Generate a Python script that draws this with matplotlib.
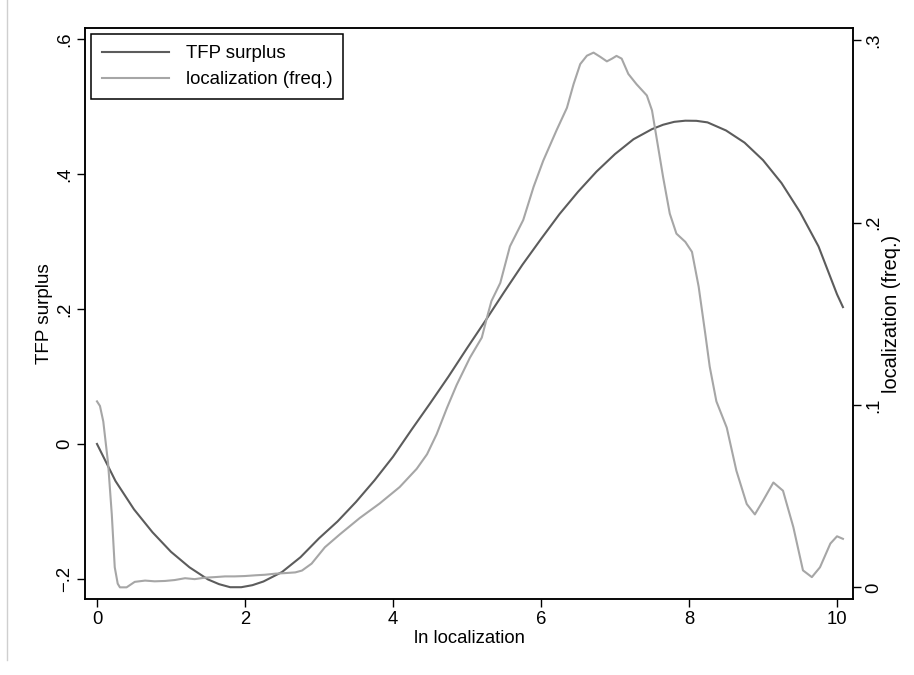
import numpy as np
import matplotlib.pyplot as plt
from matplotlib.lines import Line2D

plt.rcParams['font.family'] = ['Liberation Sans', 'DejaVu Sans']

# TFP surplus (left axis)
tfp_x = [0, 0.25, 0.5, 0.75, 1.0, 1.25, 1.5, 1.65, 1.8, 1.95, 2.1, 2.25, 2.5,
         2.75, 3.0, 3.25, 3.5, 3.75, 4.0, 4.25, 4.5, 4.75, 5.0, 5.25, 5.5,
         5.75, 6.0, 6.25, 6.5, 6.75, 7.0, 7.25, 7.5, 7.65, 7.8, 7.95, 8.1,
         8.25, 8.5, 8.75, 9.0, 9.25, 9.5, 9.75, 10.0, 10.08]
tfp_y = [0, -0.055, -0.097, -0.131, -0.160, -0.183, -0.201, -0.208, -0.2125,
         -0.2125, -0.2095, -0.204, -0.190, -0.168, -0.140, -0.115, -0.086,
         -0.054, -0.019, 0.021, 0.060, 0.100, 0.142, 0.183, 0.225, 0.266,
         0.304, 0.341, 0.374, 0.404, 0.430, 0.452, 0.467, 0.4735, 0.4778,
         0.4795, 0.4793, 0.477, 0.465, 0.447, 0.421, 0.387, 0.344, 0.293,
         0.222, 0.203]

# localization (freq.) (right axis)
loc_x = [0, 0.04, 0.085, 0.15, 0.2, 0.24, 0.28, 0.31, 0.40, 0.51, 0.65, 0.78,
         0.92, 1.05, 1.19, 1.32, 1.46, 1.59, 1.73, 1.86, 2.0, 2.14, 2.27,
         2.41, 2.54, 2.68, 2.77, 2.9, 3.08, 3.28, 3.55, 3.82, 4.09, 4.32,
         4.46, 4.59, 4.73, 4.86, 5.04, 5.2, 5.27, 5.33, 5.45, 5.58, 5.76,
         5.9, 6.03, 6.21, 6.35, 6.44, 6.53, 6.62, 6.71, 6.80, 6.89, 6.96,
         7.02, 7.09, 7.18, 7.29, 7.43, 7.50, 7.56, 7.65, 7.74, 7.83, 7.95,
         8.04, 8.13, 8.22, 8.28, 8.37, 8.51, 8.64, 8.78, 8.89, 9.0, 9.14,
         9.27, 9.41, 9.54, 9.66, 9.77, 9.91, 10.0, 10.08]
loc_y = [0.102, 0.0995, 0.091, 0.068, 0.040, 0.011, 0.002, 0.0, 0.0, 0.003,
         0.0037, 0.0033, 0.0035, 0.004, 0.005, 0.0045, 0.0053, 0.0056, 0.006,
         0.006, 0.0062, 0.0066, 0.0069, 0.0075, 0.0078, 0.0082, 0.0092,
         0.013, 0.022, 0.029, 0.038, 0.046, 0.055, 0.065, 0.073, 0.084,
         0.0985, 0.111, 0.126, 0.137, 0.148, 0.157, 0.167, 0.187, 0.2015,
         0.2197, 0.234, 0.2507, 0.263, 0.276, 0.287, 0.2916, 0.2933, 0.291,
         0.2885, 0.29, 0.2915, 0.29, 0.2816, 0.276, 0.2698, 0.2616, 0.247,
         0.225, 0.205, 0.194, 0.1895, 0.184, 0.165, 0.139, 0.121, 0.102,
         0.0876, 0.064, 0.0457, 0.040, 0.0475, 0.0575, 0.053, 0.033, 0.0093,
         0.0056, 0.011, 0.024, 0.028, 0.0266]

x_ticks = [0, 2, 4, 6, 8, 10]
left_ticks = [-0.2, 0, 0.2, 0.4, 0.6]
left_labels = ['\u2212.2', '0', '.2', '.4', '.6']
right_ticks = [0, 0.1, 0.2, 0.3]
right_labels = ['0', '.1', '.2', '.3']

FS = 13.3
W, H = 914, 675

fig = plt.figure(figsize=(W / 100, H / 100), dpi=100)
ax = fig.add_axes([85 / W, 1 - 599 / H, (853 - 85) / W, (599 - 28) / H])
ax2 = ax.twinx()

l1, = ax.plot(tfp_x, tfp_y, color='#5c5c5c', lw=1.5, label='TFP surplus')
l2, = ax2.plot(loc_x, loc_y, color='#a6a6a6', lw=1.5, label='localization (freq.)')

ax.set_xlim(-0.162, 10.216)
ax.set_ylim(-0.230, 0.617)
ax2.set_ylim(-0.0064, 0.3068)

ax.set_xticks(x_ticks)
ax.set_xticklabels([str(t) for t in x_ticks], fontsize=FS)
ax.set_yticks(left_ticks)
ax.set_yticklabels(left_labels, fontsize=FS, rotation=90, va='center')
ax2.set_yticks(right_ticks)
ax2.set_yticklabels(right_labels, fontsize=FS, rotation=90, va='center')

for a in (ax, ax2):
    a.tick_params(direction='out', length=6, width=1, color='black', pad=2.5)
    for s in a.spines.values():
        s.set_linewidth(1.1)
        s.set_color('black')

ax.set_xlabel('ln localization', fontsize=FS)
ax.set_ylabel('TFP surplus', fontsize=13.6, labelpad=2)
ax2.set_ylabel('localization (freq.)', fontsize=14.4, labelpad=0)
ax.xaxis.set_label_coords(0.5, -0.054)

leg = ax2.legend(handles=[l1, l2], loc='upper left',
                 bbox_to_anchor=(5.7 / 768, 1 - 6.3 / 571), borderaxespad=0,
                 fontsize=13.4, fancybox=False, framealpha=1, edgecolor='black',
                 handlelength=3.6, handletextpad=0.9, borderpad=0.6,
                 labelspacing=0.47)
leg.get_frame().set_linewidth(1.1)

# faint border line on the far left of the image
fig.add_artist(Line2D([7 / W, 7 / W], [1 - 660 / H, 1], color='#cfcfcf', lw=1,
                      transform=fig.transFigure))

fig.savefig('out.png', dpi=100, facecolor='white')
